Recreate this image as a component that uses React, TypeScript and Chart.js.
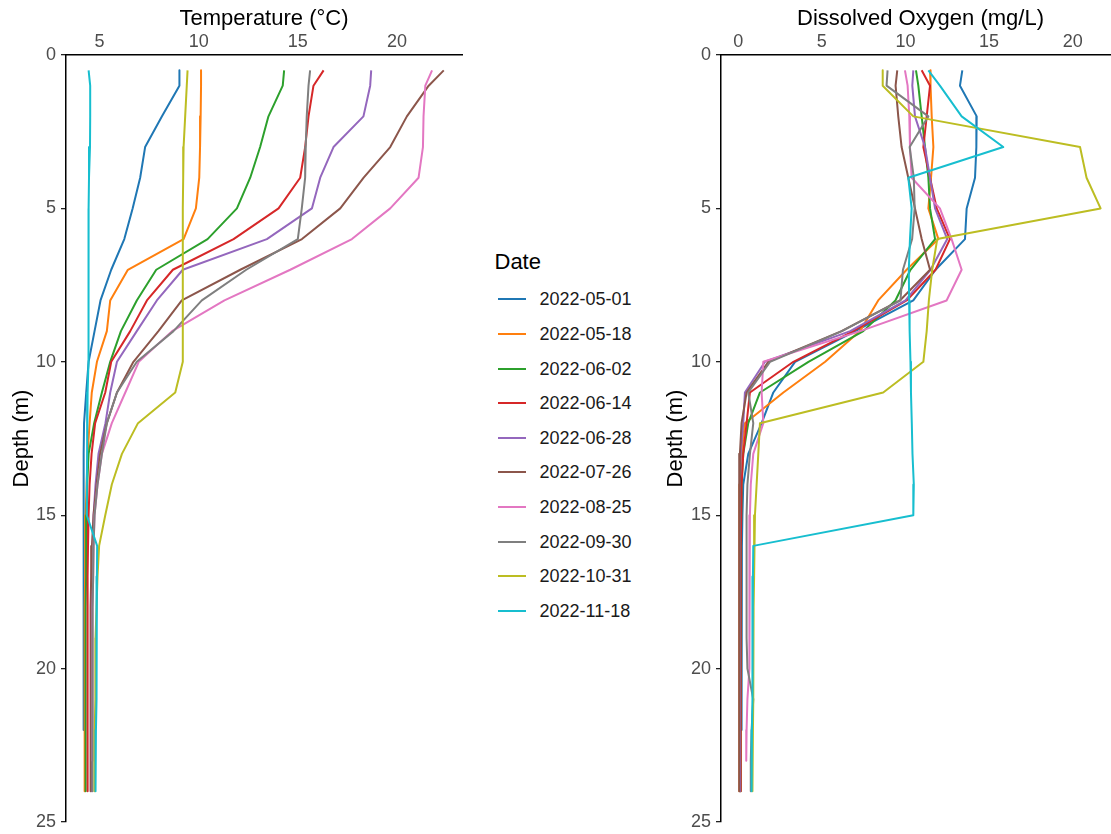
import React, { useEffect, useRef } from "react";
import { Chart, registerables } from "chart.js";

Chart.register(...registerables);

const FONT = "'Liberation Sans', Arial, Helvetica, sans-serif";
Chart.defaults.font.family = FONT;

// Sampling dates and their line colours
const DATES = [
  "2022-05-01",
  "2022-05-18",
  "2022-06-02",
  "2022-06-14",
  "2022-06-28",
  "2022-07-26",
  "2022-08-25",
  "2022-09-30",
  "2022-10-31",
  "2022-11-18",
];
const COLORS = [
  "#1f77b4",
  "#ff7f0e",
  "#2ca02c",
  "#d62728",
  "#9467bd",
  "#8c564b",
  "#e377c2",
  "#7f7f7f",
  "#bcbd22",
  "#17becf",
];

// Sample depths (m); each profile runs from the first depth down as far as it has values
const DEPTHS = [0.5, 1, 2, 3, 4, 5, 6, 7, 8, 9, 10, 11, 12, 13, 14, 15, 16, 17, 18, 19, 20, 21, 22, 23, 24];

// Water temperature profiles (°C)
const TEMP_0501 = [9.03, 9.03, 8.15, 7.3, 7.05, 6.67, 6.25, 5.59, 5.05, 4.75, 4.45, 4.33, 4.22, 4.2, 4.2, 4.2, 4.2, 4.2, 4.2, 4.2, 4.2, 4.2, 4.2];
const TEMP_0518 = [10.12, 10.12, 10.1, 10.07, 10.03, 9.86, 9.24, 6.43, 5.54, 5.37, 4.87, 4.61, 4.5, 4.4, 4.35, 4.3, 4.28, 4.27, 4.25, 4.25, 4.25, 4.25, 4.25, 4.25, 4.25];
const TEMP_0602 = [14.31, 14.24, 13.52, 13.1, 12.6, 11.93, 10.45, 7.86, 6.88, 6.08, 5.54, 5.12, 4.73, 4.45, 4.38, 4.35, 4.33, 4.32, 4.3, 4.3, 4.3, 4.3, 4.3, 4.3, 4.3];
const TEMP_0614 = [16.3, 15.79, 15.54, 15.37, 15.12, 14.03, 11.76, 8.7, 7.39, 6.55, 5.59, 5.29, 4.78, 4.6, 4.5, 4.45, 4.42, 4.4, 4.4, 4.4, 4.4, 4.4, 4.4, 4.4, 4.4];
const TEMP_0628 = [18.7, 18.65, 18.31, 16.8, 16.13, 15.71, 13.44, 9.2, 7.89, 6.88, 5.88, 5.54, 5.3, 4.95, 4.8, 4.7, 4.65, 4.6, 4.6, 4.6, 4.6, 4.6, 4.6, 4.6, 4.6];
const TEMP_0726 = [22.36, 21.6, 20.5, 19.66, 18.32, 17.14, 15.21, 12.1, 9.15, 7.97, 6.71, 5.88, 5.37, 5.03, 4.85, 4.7, 4.62, 4.58, 4.55, 4.55, 4.55, 4.55, 4.55, 4.55, 4.55];
const TEMP_0825 = [21.77, 21.43, 21.34, 21.31, 21.09, 19.66, 17.73, 14.62, 11.3, 8.66, 6.98, 6.3, 5.62, 5.12, 4.9, 4.75, 4.7, 4.68, 4.65, 4.65, 4.65, 4.65, 4.65, 4.65];
const TEMP_0930 = [15.62, 15.54, 15.45, 15.4, 15.37, 15.2, 15.0, 12.4, 10.16, 8.73, 6.88, 5.88, 5.37, 5.12, 4.9, 4.75, 4.7, 4.68, 4.65, 4.65, 4.65, 4.65, 4.65, 4.65, 4.65];
const TEMP_1031 = [9.44, 9.4, 9.32, 9.24, 9.22, 9.2, 9.2, 9.2, 9.2, 9.2, 9.2, 8.82, 6.94, 6.13, 5.62, 5.29, 4.98, 4.9, 4.85, 4.8, 4.8, 4.78, 4.76, 4.75, 4.75];
const TEMP_1118 = [4.45, 4.53, 4.53, 4.52, 4.47, 4.45, 4.45, 4.45, 4.45, 4.45, 4.43, 4.4, 4.38, 4.37, 4.36, 4.36, 4.88, 4.87, 4.86, 4.85, 4.85, 4.84, 4.82, 4.8, 4.8];

// Dissolved oxygen profiles (mg/L)
const DO_0501 = [13.4, 13.26, 14.26, 14.24, 14.16, 13.66, 13.56, 11.8, 10.47, 7.0, 3.4, 2.1, 1.4, 0.6, 0.3, 0.25, 0.22, 0.2, 0.2, 0.2, 0.2, 0.2, 0.2];
const DO_0518 = [11.47, 11.5, 11.57, 11.67, 11.53, 11.37, 11.97, 10.07, 8.37, 7.28, 5.2, 2.7, 0.4, 0.2, 0.1, 0.08, 0.06, 0.06, 0.06, 0.06, 0.06, 0.06, 0.06, 0.06, 0.06];
const DO_0602 = [10.63, 10.77, 10.97, 11.17, 11.37, 11.47, 11.77, 10.3, 9.4, 7.48, 4.2, 1.3, 0.6, 0.3, 0.2, 0.18, 0.15, 0.15, 0.15, 0.15, 0.15, 0.15, 0.15, 0.15, 0.15];
const DO_0614 = [10.97, 11.47, 11.27, 11.07, 11.47, 11.87, 12.66, 11.8, 10.07, 6.88, 3.3, 0.7, 0.5, 0.3, 0.2, 0.18, 0.15, 0.15, 0.15, 0.15, 0.15, 0.15, 0.15, 0.15, 0.15];
const DO_0628 = [10.47, 10.41, 10.57, 11.17, 11.47, 11.77, 12.5, 11.5, 10.0, 6.7, 1.6, 0.4, 0.3, 0.15, 0.1, 0.1, 0.1, 0.1, 0.1, 0.1, 0.1, 0.1, 0.1, 0.1, 0.1];
const DO_0726 = [9.51, 9.41, 9.57, 9.77, 10.17, 10.57, 10.97, 11.47, 9.67, 6.18, 1.8, 0.5, 0.2, 0.1, 0.06, 0.06, 0.06, 0.06, 0.06, 0.06, 0.06, 0.06, 0.06, 0.06, 0.06];
const DO_0825 = [9.97, 10.13, 10.23, 10.27, 10.37, 12.06, 12.76, 13.36, 12.46, 7.3, 1.5, 1.4, 1.5, 0.9, 0.75, 0.7, 0.7, 0.68, 0.66, 0.65, 0.65, 0.55, 0.5, 0.48];
const DO_0930 = [8.93, 8.87, 11.37, 10.25, 10.5, 10.55, 10.4, 9.85, 9.7, 6.2, 1.9, 0.6, 0.9, 0.7, 0.55, 0.5, 0.5, 0.5, 0.5, 0.5, 0.55, 0.9, 0.8, 0.75, 0.75];
const DO_1031 = [8.64, 8.64, 10.47, 20.44, 20.83, 21.67, 11.9, 11.6, 11.4, 11.27, 11.07, 8.67, 1.3, 1.2, 1.1, 1.0, 0.95, 0.95, 0.92, 0.9, 0.9, 0.9, 0.88, 0.85, 0.85];
const DO_1118 = [11.37, 12.06, 13.36, 15.85, 10.17, 10.37, 10.27, 10.2, 10.22, 10.25, 10.3, 10.33, 10.38, 10.42, 10.5, 10.47, 0.9, 0.88, 0.86, 0.85, 0.85, 0.84, 0.82, 0.8, 0.8];

const TEMPERATURE = [TEMP_0501, TEMP_0518, TEMP_0602, TEMP_0614, TEMP_0628, TEMP_0726, TEMP_0825, TEMP_0930, TEMP_1031, TEMP_1118];
const OXYGEN = [DO_0501, DO_0518, DO_0602, DO_0614, DO_0628, DO_0726, DO_0825, DO_0930, DO_1031, DO_1118];

// Axis ticks
const DEPTH_TICKS = [0, 5, 10, 15, 20, 25];
const TEMP_TICKS = [5, 10, 15, 20];
const DO_TICKS = [0, 5, 10, 15, 20];

type PanelSpec = {
  profiles: number[][];
  title: string;
  xMin: number;
  xMax: number;
  xTicks: number[];
  yAxisWidth: number;
  yTitlePad: number;
  padRight: number;
};

const TEMP_PANEL: PanelSpec = {
  profiles: TEMPERATURE,
  title: "Temperature (°C)",
  xMin: 3.31,
  xMax: 23.28,
  xTicks: TEMP_TICKS,
  yAxisWidth: 66,
  yTitlePad: 8.5,
  padRight: 8,
};

const DO_PANEL: PanelSpec = {
  profiles: OXYGEN,
  title: "Dissolved Oxygen (mg/L)",
  xMin: -1.03,
  xMax: 22.83,
  xTicks: DO_TICKS,
  yAxisWidth: 81,
  yTitlePad: 23,
  padRight: 0,
};

function buildConfig(spec: PanelSpec): any {
  const n = spec.profiles.length;
  return {
    type: "line",
    data: {
      datasets: spec.profiles.map((vals, i) => ({
        label: DATES[i],
        data: vals.map((v, j) => ({ x: v, y: DEPTHS[j] })),
        borderColor: COLORS[i],
        backgroundColor: COLORS[i],
        borderWidth: 2,
        borderJoinStyle: "round",
        pointRadius: 0,
        pointHoverRadius: 0,
        fill: false,
        tension: 0,
        order: n - i,
      })),
    },
    options: {
      animation: false,
      responsive: false,
      events: [],
      layout: { padding: { left: 0, top: 0, right: spec.padRight, bottom: 12 } },
      plugins: { legend: { display: false }, tooltip: { enabled: false } },
      scales: {
        x: {
          type: "linear",
          position: "top",
          min: spec.xMin,
          max: spec.xMax,
          afterBuildTicks: (s: any) => {
            s.ticks = spec.xTicks.map((v) => ({ value: v }));
          },
          afterFit: (s: any) => {
            s.height = 55;
            s.paddingLeft = 0;
            s.paddingRight = 0;
          },
          grid: { display: false, drawTicks: false },
          border: { display: true, color: "#000", width: 1.5 },
          ticks: {
            color: "#4d4d4d",
            padding: 2,
            maxRotation: 0,
            autoSkip: false,
            font: { size: 18, family: FONT },
          },
          title: {
            display: true,
            text: spec.title,
            color: "#000",
            padding: { top: 5.5, bottom: 0 },
            font: { size: 22, family: FONT },
          },
        },
        y: {
          type: "linear",
          reverse: true,
          min: 0,
          max: 25,
          afterBuildTicks: (s: any) => {
            s.ticks = DEPTH_TICKS.map((v) => ({ value: v }));
          },
          afterFit: (s: any) => {
            s.width = spec.yAxisWidth;
            s.paddingTop = 0;
            s.paddingBottom = 0;
          },
          grid: {
            display: true,
            drawOnChartArea: false,
            drawTicks: true,
            tickLength: 5,
            color: "#222",
            lineWidth: 1.3,
          },
          border: { display: true, color: "#000", width: 1.5 },
          ticks: {
            color: "#4d4d4d",
            padding: 5,
            autoSkip: false,
            font: { size: 18, family: FONT },
          },
          title: {
            display: true,
            text: "Depth (m)",
            color: "#000",
            padding: { top: spec.yTitlePad, bottom: 0 },
            font: { size: 22, family: FONT },
          },
        },
      },
    },
  };
}

function ProfilePanel({ spec, left, width }: { spec: PanelSpec; left: number; width: number }) {
  const ref = useRef<HTMLCanvasElement>(null);
  useEffect(() => {
    if (!ref.current) return;
    const chart = new Chart(ref.current, buildConfig(spec));
    return () => chart.destroy();
  }, [spec]);
  return (
    <canvas
      ref={ref}
      width={width}
      height={834}
      style={{ position: "absolute", left, top: 0, width, height: 834 }}
    />
  );
}

function DateLegend() {
  const rowTop = 299.3;
  const rowStep = 34.6;
  return (
    <div style={{ position: "absolute", left: 0, top: 0, fontFamily: FONT }}>
      <div
        style={{
          position: "absolute",
          left: 494.5,
          top: 251.4,
          fontSize: 22,
          lineHeight: "22px",
          color: "#000",
          whiteSpace: "nowrap",
        }}
      >
        Date
      </div>
      {DATES.map((d, i) => {
        const cy = rowTop + i * rowStep;
        return (
          <React.Fragment key={d}>
            <div
              style={{
                position: "absolute",
                left: 498,
                top: cy - 1,
                width: 28,
                height: 2,
                background: COLORS[i],
              }}
            />
            <div
              style={{
                position: "absolute",
                left: 539.5,
                top: cy - 9,
                height: 18,
                fontSize: 18,
                lineHeight: "18px",
                color: "#1a1a1a",
                whiteSpace: "nowrap",
              }}
            >
              {d}
            </div>
          </React.Fragment>
        );
      })}
    </div>
  );
}

export default function App() {
  return (
    <div
      style={{
        position: "absolute",
        left: 0,
        top: 0,
        width: 1111,
        height: 834,
        overflow: "hidden",
        background: "#fff",
      }}
    >
      <ProfilePanel spec={TEMP_PANEL} left={0} width={470} />
      <DateLegend />
      <ProfilePanel spec={DO_PANEL} left={640} width={480} />
    </div>
  );
}
